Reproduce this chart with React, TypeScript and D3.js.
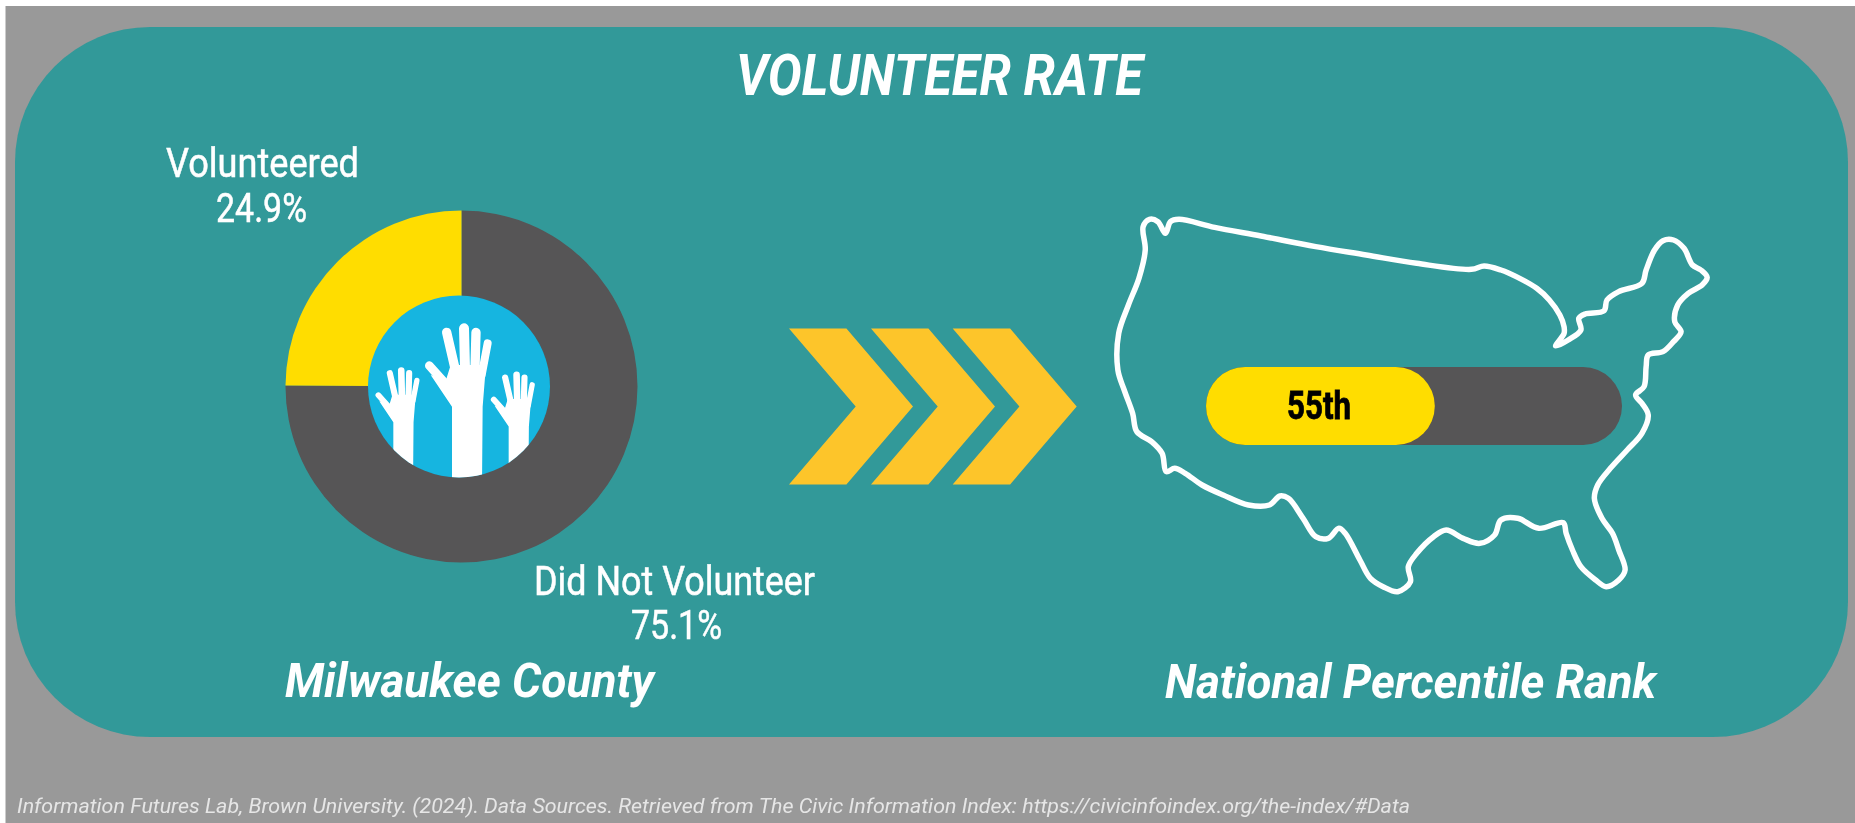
import React from "react";
import * as d3 from "d3";

const W = 1855;
const H = 823;

// Chart values
const donutLabels = ["Did Not Volunteer", "Volunteered"];
const donutValues = [75.1, 24.9];
const donutColors = ["#565556", "#ffdd00"];
const percentileValue = 55;
const percentileLabel = "55th";

// US outline, in a 1568x1260 tracing frame
const mapX = [150,165,185,203,215,235,320,430,560,680,800,930,960,1000,1040,1085,1115,1140,1150,1150,1130,1160,1190,1185,1200,1245,1252,1280,1335,1345,1365,1385,1410,1435,1455,1475,1490,1478,1445,1420,1413,1428,1410,1385,1350,1345,1340,1320,1335,1350,1335,1300,1260,1230,1222,1240,1265,1280,1295,1280,1250,1225,1190,1170,1155,1148,1090,1040,1000,985,950,910,870,840,800,780,785,755,720,690,665,630,615,590,560,530,495,475,450,400,340,290,250,225,205,195,170,135,125,105,90,92,115,140,155,150];
const mapY = [110,88,95,130,95,88,112,138,170,195,220,238,228,240,262,295,330,375,410,430,468,450,420,385,372,362,330,305,280,240,180,152,150,175,225,240,262,285,310,345,395,425,455,485,495,530,590,615,640,675,730,780,835,885,925,985,1030,1080,1140,1170,1190,1170,1130,1080,1030,998,1015,985,990,1035,1060,1045,1020,1040,1090,1130,1175,1205,1190,1165,1110,1030,1015,1045,1040,985,925,918,945,945,915,885,850,835,845,790,755,725,670,600,540,430,345,265,180,110];

// Chevron outline (fractions of the chevron's box)
const chevronStarts = [789, 871, 952.7];
const chevronShape: [number, number][] = [[0,0],[0.463,0],[1,0.5],[0.463,1],[0,1],[0.538,0.5]];

// Hand shape: fingers as [x1,y1,x2,y2,width]
const fingers = [
  [268,197,320,255,26],
  [320,97,345,205,28],
  [372,85,375,205,30],
  [408,97,405,205,28],
  [443,130,425,225,24],
];
const palm: [number, number][] = [[332,195],[438,195],[428,320],[426,560],[336,560],[336,320],[272,225],[318,240]];
const handPlacements = [
  { dx: 380, dy: 0, s: 1, ax: 380, ay: 75 },
  { dx: 189, dy: 205, s: 0.66, ax: 380, ay: 75 },
  { dx: 535, dy: 218, s: 0.66, ax: 380, ay: 75 },
];

const line = d3.line();
const sx = d3.scaleLinear().domain([0, 1568]).range([1080, 1080 + 660]);
const sy = d3.scaleLinear().domain([0, 1260]).range([190, 190 + 420]);
const mapPath = d3.line<number>()
  .x((_, i) => sx(mapX[i]))
  .y((_, i) => sy(mapY[i]))
  .curve(d3.curveCatmullRomClosed.alpha(0.5))(mapX.slice(0, -1)) as string;

const barX = d3.scaleLinear().domain([0, 100]).range([1206, 1622]);

const pie = d3.pie<number>().sort(null).startAngle(0).endAngle(2 * Math.PI);
const arc = d3.arc<d3.PieArcDatum<number>>().innerRadius(0).outerRadius(176);
const arcs = pie(donutValues);

const narrow = "'Roboto', 'Liberation Sans', sans-serif";

type LabelProps = { x0: number; x1: number; y: number; size: number; text: string; bold?: boolean; italic?: boolean; fill?: string; heavy?: number };
function Label({ x0, x1, y, size, text, bold, italic, fill = "#fff", heavy = 0 }: LabelProps) {
  return (
    <text
      x={x0}
      y={y}
      textLength={x1 - x0}
      lengthAdjust="spacingAndGlyphs"
      fontFamily={narrow}
      fontSize={size}
      fontWeight={bold ? 700 : 400}
      fontStyle={italic ? "italic" : "normal"}
      fill={fill}
      stroke={heavy ? fill : "none"}
      strokeWidth={heavy}
    >
      {text}
    </text>
  );
}

function Hand({ dx, dy, s, ax, ay }: { dx: number; dy: number; s: number; ax: number; ay: number }) {
  const tx = (x: number) => 340 + (dx + (x - ax) * s) / 3;
  const ty = (y: number) => 300 + (dy === 0 ? y : dy + (y - ay) * s) / 3;
  return (
    <g>
      <path d={(line(palm.map(([x, y]) => [tx(x), ty(y)] as [number, number])) as string) + "Z"} fill="#fff" />
      {fingers.map(([a, b, c, d, w], i) => (
        <line key={i} x1={tx(a)} y1={ty(b)} x2={tx(c)} y2={ty(d)} stroke="#fff" strokeWidth={(w * s) / 3} strokeLinecap="round" />
      ))}
    </g>
  );
}

export default function App() {
  const barY = 367;
  const barH = 78;
  return (
    <svg width={W} height={H} viewBox={`0 0 ${W} ${H}`} style={{ position: "absolute", left: 0, top: 0, display: "block", background: "#fff" }}>
      <defs>
        <clipPath id="inner"><circle cx={459} cy={386.5} r={91} /></clipPath>
        <filter id="soft" x="0" y="0" width="100%" height="100%"><feGaussianBlur stdDeviation="0.7" /></filter>
      </defs>
      <g filter="url(#soft)">
        <rect x={5.5} y={6} width={W - 5.5} height={H - 6} fill="#999999" />
        <rect x={15} y={27} width={1833} height={710} rx={135} ry={135} fill="#339999" />

        <Label x0={736} x1={1143} y={95} size={57} text="VOLUNTEER RATE" bold italic />

        <g transform="translate(461.5,386.5)">
          {arcs.map((a, i) => (
            <path key={donutLabels[i]} d={arc(a) as string} fill={donutColors[i]} />
          ))}
        </g>
        <circle cx={459} cy={386.5} r={91} fill="#12b5e0" />
        <g clipPath="url(#inner)">
          {handPlacements.map((h, i) => <Hand key={i} {...h} />)}
        </g>

        <Label x0={166} x1={359} y={177} size={40} text="Volunteered" heavy={0.5} />
        <Label x0={216} x1={307} y={222} size={40} text="24.9%" heavy={0.5} />
        <Label x0={534} x1={815} y={595} size={40} text="Did Not Volunteer" heavy={0.5} />
        <Label x0={631} x1={722} y={639} size={40} text="75.1%" heavy={0.5} />
        <Label x0={285} x1={654} y={697} size={48} text="Milwaukee County" bold italic />

        {chevronStarts.map((x0) => (
          <path
            key={x0}
            d={(line(chevronShape.map(([u, v]) => [x0 + u * 124, 328.5 + v * 156] as [number, number])) as string) + "Z"}
            fill="#fdc52c"
          />
        ))}

        <path d={mapPath} fill="none" stroke="#fff" strokeWidth={5.5} strokeLinejoin="round" />
        <rect x={barX(0)} y={barY} width={barX(100) - barX(0)} height={barH} rx={39} ry={39} fill="#565556" />
        <rect x={barX(0)} y={barY} width={barX(percentileValue) - barX(0)} height={barH} rx={39} ry={39} fill="#ffdd00" />
        <Label x0={1287} x1={1351} y={419} size={38} text={percentileLabel} bold fill="#000" heavy={0.8} />

        <Label x0={1165} x1={1656} y={698} size={48} text="National Percentile Rank" bold italic />
        <Label x0={17} x1={1410} y={813} size={21} text="Information Futures Lab, Brown University. (2024). Data Sources. Retrieved from The Civic Information Index: https://civicinfoindex.org/the-index/#Data" italic fill="#e6e6e6" />
      </g>
    </svg>
  );
}
